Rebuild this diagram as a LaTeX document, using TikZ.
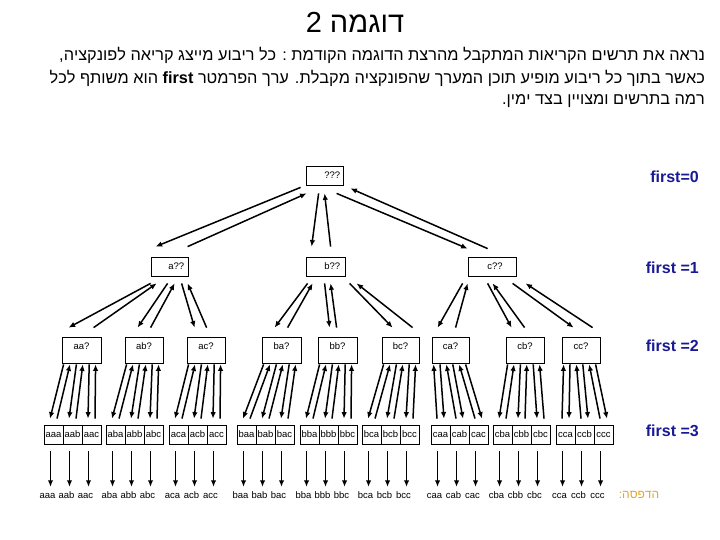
\documentclass[tikz,border=0pt]{standalone}
\usepackage{fontspec}
\setmainfont{Liberation Sans}
\usetikzlibrary{arrows.meta,calc}
\TeXXeTstate=1
\definecolor{fblue}{RGB}{25,25,150}
\definecolor{goldc}{RGB}{225,165,40}
\begin{document}
\begin{tikzpicture}[x=1pt,y=-1pt,
  box/.style={draw,line width=0.8pt,inner sep=0pt,minimum height=19pt},
  box2/.style={draw,line width=0.8pt,inner sep=0pt,minimum height=26pt},
  cell/.style={draw,line width=0.8pt,inner sep=0pt,minimum width=19pt,minimum height=19pt,font=\fontsize{9.5}{10}\selectfont},
  txt/.style={inner sep=0pt,font=\fontsize{9.5}{10}\selectfont},
  leaftxt/.style={inner sep=1pt,text height=7pt,text depth=0pt,font=\fontsize{9.5}{10}\selectfont},
  arr/.style={line width=1.5pt,-{Latex[length=6.5pt,width=5.5pt]}},
  L0/.style={arr},
  R0/.style={line width=1.5pt,{Latex[length=6.5pt,width=5.5pt]}-},
  L1/.style={line width=1.5pt,{Latex[length=6.5pt,width=5.5pt]}-},
  R1/.style={arr},
  flabel/.style={anchor=east,inner sep=0pt,text=fblue,font=\fontsize{16}{18}\selectfont\bfseries},
  para/.style={anchor=east,inner sep=0pt,font=\fontsize{16.3}{18}\selectfont}
]
\useasboundingbox (0,0) rectangle (720,540);

% title and paragraph
\node[inner sep=0pt,font=\fontsize{29}{32}\selectfont] (title) at (355,22) {\beginR דוגמה 2\endR};
\node[para] (p1) at (705,55) {\beginR נראה את תרשים הקריאות המתקבל מהרצת הדוגמה הקודמת : כל ריבוע מייצג קריאה לפונקציה,\endR};
\node[para] (p2) at (705,78) {\beginR כאשר בתוך כל ריבוע מופיע תוכן המערך שהפונקציה מקבלת. ערך הפרמטר \beginL\textbf{first}\endL{} הוא משותף לכל\endR};
\node[para] (p3) at (705,101) {\beginR רמה בתרשים ומצויין בצד ימין.\endR};

% root
\node[box,minimum width=37pt] (R) at (324.5,175.5) {};
\node[txt,anchor=east] (tR) at ($(R.east)+(-3,0)$) {???};

% level 1
\node[box,minimum width=37pt] (A) at (169.5,266.5) {};
\node[txt,anchor=east] (tA) at ($(A.east)+(-4,0)$) {a??};
\node[box,minimum width=39pt] (B) at (325.5,266.5) {};
\node[txt,anchor=east] (tB) at ($(B.east)+(-5,0)$) {b??};
\node[box,minimum width=48pt] (C) at (492,266.5) {};
\node[txt] (tC) at ($(C.center)+(3,0)$) {c??};

% level 2
\foreach \n/\x/\w in {aa/81.5/39, ab/144/38, ac/206/38, ba/281.5/39, bb/337.5/39, bc/400.5/37, ca/450.5/37, cb/525/38, cc/581/38}{
  \node[box2,minimum width=\w pt] (\n) at (\x,350) {};
  \node[txt] (t\n) at (\x,346) {\n?};
}

% level 3 cells, leaves
\foreach \g/\lx in {aa/44, ab/106, ac/169, ba/237, bb/300, bc/362, ca/431, cb/493, cc/556}{
  \foreach \s [count=\k from 0] in {a,b,c}{
    \node[cell] (\g\s) at (\lx+9.5+19*\k,434.5) {\g\s};
    \node[leaftxt] (L\g\s) at (\lx+9.5+19*\k-6,495) {\g\s};
    \draw[arr] ($(\g\s.south)+(-3,7)$) -- ($(L\g\s.north)+(3,-3.5)$);
  }
}

% arrows level 0 -> 1
\draw[arr] ($(R.south west)+(-5,2)$) -- ($(A.north west)+(5,-10)$);
\draw[arr] ($(A.north west)+(37,-10)$) -- ($(R.south west)+(1,8)$);
\draw[arr] ($(R.south west)+(13,8)$) -- ($(B.north west)+(6,-10)$);
\draw[arr] ($(B.north west)+(25,-10)$) -- ($(R.south west)+(19,8)$);
\draw[arr] ($(R.south west)+(31,8)$) -- ($(C.north west)+(0,-8)$);
\draw[arr] ($(C.north west)+(20,-8)$) -- ($(R.south east)+(7,3)$);

% arrows level 1 -> 2
\foreach \p/\c/\pd/\cd/\cu/\pu in {A/aa/0/7/32/6, A/ab/17/13/26/24, A/ac/31/8/20/37, B/ba/2/13/26/7, B/bb/19/12/19/25, B/bc/44/11/31/51, C/ca/-5/6/24/0, C/cb/20/6/19/25, C/cc/45/12/31/58}{
  \draw[arr] ($(\p.south west)+(\pd,7)$) -- ($(\c.north west)+(\cd,-9)$);
  \draw[arr] ($(\c.north west)+(\cu,-9)$) -- ($(\p.south west)+(\pu,7)$);
}

% arrows level 2 -> 3
\foreach \g/\m in {aa/0, ab/0, ac/0, ba/0, bb/0, bc/0, ca/1, cb/0, cc/1}{
  \foreach \s [count=\k from 0] in {a,b,c}{
    \draw[L\m] ($(\g.south west)+(2+12.8*\k,1)$) -- ($(\g\s.north)+(-3.5,-6)$);
    \draw[R\m] ($(\g.south west)+(8.4+12.8*\k,1)$) -- ($(\g\s.north)+(3.5,-6)$);
  }
}

% right labels
\node[flabel] (f0) at (699,177) {first=0};
\node[flabel] (f1) at (699,268) {first =1};
\node[flabel] (f2) at (699,346) {first =2};
\node[flabel] (f3) at (699,431) {first =3};
\node[inner sep=0pt,text=goldc,font=\fontsize{12}{14}\selectfont] (print) at (639,495) {\beginR הדפסה:\endR};
\end{tikzpicture}
\end{document}
